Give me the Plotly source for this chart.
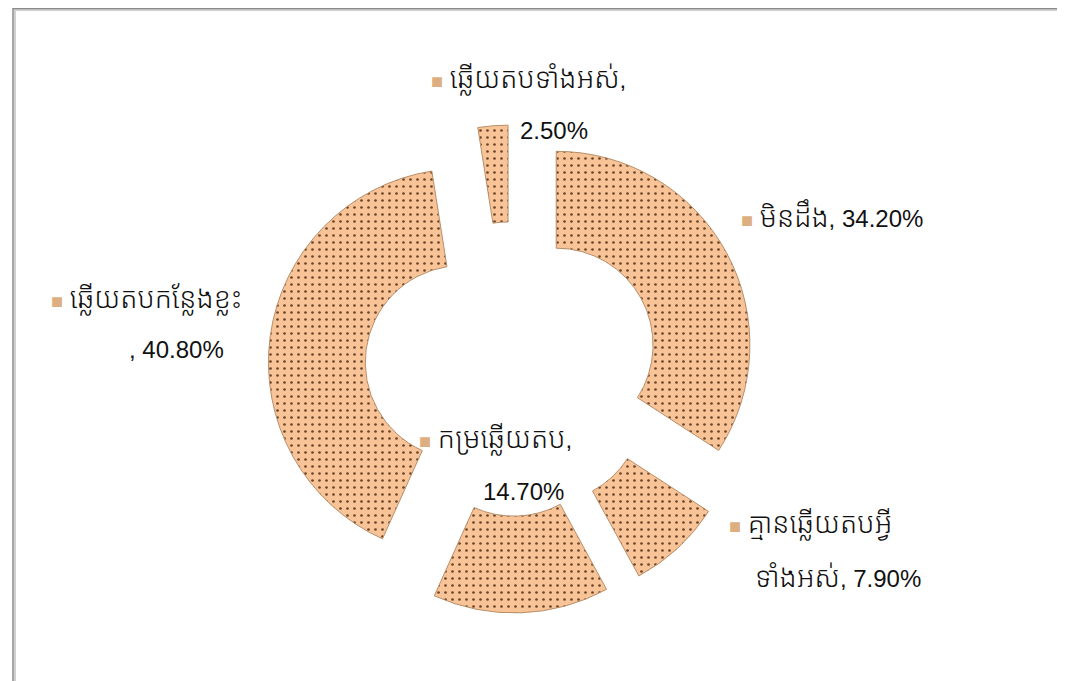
import re
import plotly.graph_objects as go

# slice order, clockwise from 12 o'clock
categories = [
    "មិនដឹង",
    "គ្មានឆ្លើយតបអ្វីទាំងអស់",
    "កម្រឆ្លើយតប",
    "ឆ្លើយតបកន្លែងខ្លះ",
    "ឆ្លើយតបទាំងអស់",
]
values = [34.2, 7.9, 14.7, 40.8, 2.5]

# where each data label wraps (character index in "label, value%"), None = one line
wrap_at = [None, len("គ្មានឆ្លើយតបអ្វី"), len("កម្រឆ្លើយតប,"), len("ឆ្លើយតបកន្លែងខ្លះ"), len("ឆ្លើយតបទាំងអស់,")]

W, H = 1065, 681
FILL = "#F8C497"
DOT = "#6a4429"
FONT = "Liberation Sans, Khmer OS, Noto Sans Khmer, Noto Serif Khmer, sans-serif"

# pie box in pixels (centre + size)
cx, cy, box = 504, 361, 488
dom_x = [(cx - box / 2) / W, (cx + box / 2) / W]
dom_y = [1 - (cy + box / 2) / H, 1 - (cy - box / 2) / H]

fig = go.Figure(
    go.Pie(
        labels=categories,
        values=values,
        sort=False,
        direction="clockwise",
        rotation=0,
        hole=0.5,
        pull=[0.26] * len(values),
        textinfo="none",
        domain=dict(x=dom_x, y=dom_y),
        marker=dict(
            colors=[FILL] * len(values),
            line=dict(color="#b88f69", width=1),
            pattern=dict(shape=".", fgcolor=DOT, bgcolor=FILL, size=7, solidity=0.12),
        ),
        showlegend=False,
    )
)

# left edge / vertical middle of each label line, in pixels
label_pos = [
    [(740, 208)],
    [(728, 516), (748, 569)],
    [(418, 431), (476, 483)],
    [(50, 291), (122, 341)],
    [(430, 71), (513, 123)],
]
key = '<span style="color:#dcae80;font-size:20px">■</span> '


def khmer_big(s):
    # Khmer script runs a little larger and lighter than the Latin digits
    return re.sub(r"([\u1780-\u17FF]+)", r'<span style="font-size:28px;font-weight:300">\1</span>', s)


for lab, val, brk, pos in zip(categories, values, wrap_at, label_pos):
    full = f"{lab}, {val:.2f}%"
    if brk is None:
        lines = [full]
    else:
        second = full[brk:]
        lines = [full[:brk].rstrip(), second if second.startswith(",") else second.lstrip()]
    for i, (ln, (lx, ly)) in enumerate(zip(lines, pos)):
        txt = khmer_big(ln)
        if i == 0:
            txt = key + txt
        fig.add_annotation(
            x=lx / W,
            y=1 - ly / H,
            xref="paper",
            yref="paper",
            text=txt,
            showarrow=False,
            xanchor="left",
            yanchor="middle",
            xshift=-9 if i == 0 else -3,
            font=dict(family=FONT, size=24, color="#111111"),
        )

# chart border with a soft shadow
fig.add_shape(type="rect", xref="paper", yref="paper",
              x0=7 / W, x1=1.02, y0=1 - 679 / H, y1=1 - 2 / H,
              line=dict(color="#d0d0d0", width=2))
fig.add_shape(type="rect", xref="paper", yref="paper",
              x0=5 / W, x1=1.02, y0=1 - 677 / H, y1=1 - 0.5 / H,
              line=dict(color="#8a8a8a", width=1.5))

fig.update_layout(
    width=W,
    height=H,
    margin=dict(l=0, r=0, t=0, b=0),
    paper_bgcolor="white",
    plot_bgcolor="white",
)

fig.write_html("out.html")
